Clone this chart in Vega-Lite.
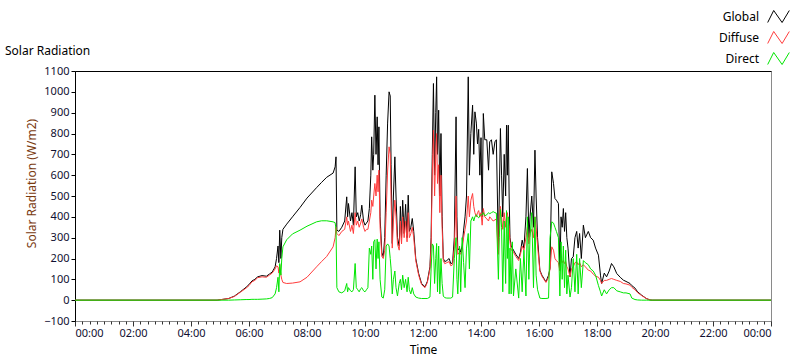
{
  "$schema": "https://vega.github.io/schema/vega-lite/v6.json",
  "width": 696,
  "height": 250,
  "autosize": "none",
  "padding": {"left": 75, "top": 71, "right": 29, "bottom": 40},
  "background": "white",
  "config": {
    "view": {"stroke": "#8a8a8a", "strokeWidth": 1},
    "font": "Noto Sans"
  },
  "title": {"text": "Solar Radiation", "anchor": "start", "frame": "group", "dx": -70, "dy": 68, "offset": 14, "fontSize": 12, "fontWeight": "normal", "font": "Noto Sans", "color": "black"},
  "data": {"values": [
    {"h":0,"Global":0,"Diffuse":0,"Direct":0},
    {"h":4.9,"Global":0,"Diffuse":0,"Direct":0},
    {"h":5.0,"Global":2,"Diffuse":2,"Direct":0},
    {"h":5.3,"Global":8,"Diffuse":8,"Direct":0},
    {"h":5.5,"Global":20,"Diffuse":18,"Direct":1},
    {"h":5.7,"Global":40,"Diffuse":38,"Direct":2},
    {"h":5.9,"Global":62,"Diffuse":58,"Direct":3},
    {"h":6.0,"Global":75,"Diffuse":70,"Direct":3},
    {"h":6.1,"Global":92,"Diffuse":88,"Direct":4},
    {"h":6.2,"Global":100,"Diffuse":95,"Direct":4},
    {"h":6.3,"Global":112,"Diffuse":108,"Direct":4},
    {"h":6.45,"Global":118,"Diffuse":112,"Direct":5},
    {"h":6.6,"Global":115,"Diffuse":110,"Direct":6},
    {"h":6.7,"Global":125,"Diffuse":120,"Direct":8},
    {"h":6.8,"Global":135,"Diffuse":130,"Direct":12},
    {"h":6.9,"Global":160,"Diffuse":150,"Direct":30},
    {"h":6.95,"Global":200,"Diffuse":165,"Direct":60},
    {"h":7.0,"Global":260,"Diffuse":160,"Direct":110},
    {"h":7.03,"Global":180,"Diffuse":130,"Direct":40},
    {"h":7.06,"Global":336,"Diffuse":170,"Direct":176},
    {"h":7.1,"Global":200,"Diffuse":120,"Direct":120},
    {"h":7.13,"Global":300,"Diffuse":100,"Direct":200},
    {"h":7.17,"Global":340,"Diffuse":85,"Direct":256},
    {"h":7.3,"Global":365,"Diffuse":80,"Direct":290},
    {"h":7.5,"Global":400,"Diffuse":82,"Direct":318},
    {"h":7.76,"Global":445,"Diffuse":88,"Direct":336},
    {"h":8.0,"Global":490,"Diffuse":110,"Direct":355},
    {"h":8.33,"Global":540,"Diffuse":160,"Direct":376},
    {"h":8.5,"Global":565,"Diffuse":185,"Direct":381},
    {"h":8.68,"Global":590,"Diffuse":210,"Direct":381},
    {"h":8.9,"Global":610,"Diffuse":256,"Direct":376},
    {"h":8.97,"Global":640,"Diffuse":300,"Direct":372},
    {"h":9.0,"Global":688,"Diffuse":350,"Direct":340},
    {"h":9.03,"Global":336,"Diffuse":320,"Direct":60},
    {"h":9.1,"Global":330,"Diffuse":310,"Direct":40},
    {"h":9.2,"Global":350,"Diffuse":330,"Direct":35},
    {"h":9.3,"Global":380,"Diffuse":340,"Direct":45},
    {"h":9.37,"Global":496,"Diffuse":400,"Direct":80},
    {"h":9.4,"Global":400,"Diffuse":360,"Direct":40},
    {"h":9.43,"Global":464,"Diffuse":380,"Direct":60},
    {"h":9.5,"Global":380,"Diffuse":330,"Direct":45},
    {"h":9.55,"Global":420,"Diffuse":360,"Direct":40},
    {"h":9.6,"Global":360,"Diffuse":320,"Direct":50},
    {"h":9.66,"Global":640,"Diffuse":420,"Direct":176},
    {"h":9.7,"Global":400,"Diffuse":360,"Direct":60},
    {"h":9.75,"Global":420,"Diffuse":380,"Direct":50},
    {"h":9.8,"Global":380,"Diffuse":350,"Direct":40},
    {"h":9.85,"Global":410,"Diffuse":370,"Direct":55},
    {"h":9.89,"Global":456,"Diffuse":390,"Direct":60},
    {"h":9.95,"Global":380,"Diffuse":350,"Direct":45},
    {"h":10.0,"Global":360,"Diffuse":330,"Direct":40},
    {"h":10.05,"Global":370,"Diffuse":340,"Direct":50},
    {"h":10.1,"Global":380,"Diffuse":340,"Direct":60},
    {"h":10.15,"Global":440,"Diffuse":380,"Direct":250},
    {"h":10.2,"Global":600,"Diffuse":420,"Direct":220},
    {"h":10.23,"Global":784,"Diffuse":480,"Direct":260},
    {"h":10.27,"Global":624,"Diffuse":450,"Direct":100},
    {"h":10.3,"Global":700,"Diffuse":500,"Direct":280},
    {"h":10.34,"Global":984,"Diffuse":560,"Direct":290},
    {"h":10.38,"Global":700,"Diffuse":500,"Direct":150},
    {"h":10.42,"Global":880,"Diffuse":600,"Direct":293},
    {"h":10.45,"Global":650,"Diffuse":520,"Direct":200},
    {"h":10.48,"Global":832,"Diffuse":624,"Direct":280},
    {"h":10.52,"Global":400,"Diffuse":350,"Direct":100},
    {"h":10.58,"Global":230,"Diffuse":210,"Direct":15},
    {"h":10.63,"Global":208,"Diffuse":200,"Direct":10},
    {"h":10.68,"Global":300,"Diffuse":240,"Direct":50},
    {"h":10.73,"Global":600,"Diffuse":420,"Direct":260},
    {"h":10.78,"Global":850,"Diffuse":620,"Direct":270},
    {"h":10.83,"Global":1000,"Diffuse":736,"Direct":260},
    {"h":10.87,"Global":980,"Diffuse":700,"Direct":200},
    {"h":10.9,"Global":650,"Diffuse":480,"Direct":150},
    {"h":10.94,"Global":272,"Diffuse":250,"Direct":30},
    {"h":10.98,"Global":500,"Diffuse":380,"Direct":100},
    {"h":11.03,"Global":688,"Diffuse":480,"Direct":140},
    {"h":11.07,"Global":500,"Diffuse":400,"Direct":60},
    {"h":11.12,"Global":300,"Diffuse":270,"Direct":20},
    {"h":11.18,"Global":260,"Diffuse":240,"Direct":80},
    {"h":11.22,"Global":450,"Diffuse":380,"Direct":100},
    {"h":11.26,"Global":300,"Diffuse":270,"Direct":50},
    {"h":11.3,"Global":480,"Diffuse":400,"Direct":120},
    {"h":11.35,"Global":320,"Diffuse":300,"Direct":60},
    {"h":11.4,"Global":460,"Diffuse":380,"Direct":100},
    {"h":11.45,"Global":300,"Diffuse":280,"Direct":40},
    {"h":11.49,"Global":504,"Diffuse":420,"Direct":110},
    {"h":11.53,"Global":330,"Diffuse":300,"Direct":50},
    {"h":11.58,"Global":350,"Diffuse":320,"Direct":30},
    {"h":11.63,"Global":392,"Diffuse":350,"Direct":60},
    {"h":11.68,"Global":330,"Diffuse":300,"Direct":30},
    {"h":11.75,"Global":200,"Diffuse":190,"Direct":15},
    {"h":11.85,"Global":128,"Diffuse":120,"Direct":10},
    {"h":11.95,"Global":80,"Diffuse":75,"Direct":8},
    {"h":12.07,"Global":64,"Diffuse":60,"Direct":8},
    {"h":12.15,"Global":90,"Diffuse":85,"Direct":8},
    {"h":12.24,"Global":160,"Diffuse":150,"Direct":15},
    {"h":12.28,"Global":300,"Diffuse":260,"Direct":150},
    {"h":12.32,"Global":700,"Diffuse":600,"Direct":270},
    {"h":12.36,"Global":1040,"Diffuse":816,"Direct":260},
    {"h":12.4,"Global":600,"Diffuse":500,"Direct":80},
    {"h":12.44,"Global":900,"Diffuse":700,"Direct":200},
    {"h":12.47,"Global":1072,"Diffuse":800,"Direct":272},
    {"h":12.5,"Global":700,"Diffuse":560,"Direct":40},
    {"h":12.54,"Global":912,"Diffuse":650,"Direct":260},
    {"h":12.58,"Global":500,"Diffuse":420,"Direct":30},
    {"h":12.62,"Global":800,"Diffuse":600,"Direct":200},
    {"h":12.66,"Global":400,"Diffuse":350,"Direct":80},
    {"h":12.7,"Global":200,"Diffuse":190,"Direct":20},
    {"h":12.75,"Global":185,"Diffuse":175,"Direct":12},
    {"h":12.82,"Global":190,"Diffuse":180,"Direct":10},
    {"h":12.9,"Global":200,"Diffuse":185,"Direct":10},
    {"h":12.96,"Global":175,"Diffuse":165,"Direct":10},
    {"h":13.02,"Global":180,"Diffuse":170,"Direct":15},
    {"h":13.08,"Global":300,"Diffuse":250,"Direct":200},
    {"h":13.14,"Global":880,"Diffuse":500,"Direct":300},
    {"h":13.17,"Global":400,"Diffuse":300,"Direct":100},
    {"h":13.2,"Global":240,"Diffuse":220,"Direct":30},
    {"h":13.26,"Global":250,"Diffuse":230,"Direct":260},
    {"h":13.3,"Global":230,"Diffuse":220,"Direct":40},
    {"h":13.35,"Global":260,"Diffuse":240,"Direct":300},
    {"h":13.4,"Global":336,"Diffuse":300,"Direct":180},
    {"h":13.45,"Global":400,"Diffuse":340,"Direct":60},
    {"h":13.5,"Global":500,"Diffuse":380,"Direct":250},
    {"h":13.56,"Global":1072,"Diffuse":500,"Direct":320},
    {"h":13.6,"Global":600,"Diffuse":400,"Direct":150},
    {"h":13.65,"Global":800,"Diffuse":480,"Direct":380},
    {"h":13.71,"Global":936,"Diffuse":512,"Direct":400},
    {"h":13.75,"Global":700,"Diffuse":450,"Direct":380},
    {"h":13.79,"Global":904,"Diffuse":420,"Direct":400},
    {"h":13.84,"Global":850,"Diffuse":400,"Direct":410},
    {"h":13.88,"Global":750,"Diffuse":420,"Direct":400},
    {"h":13.92,"Global":820,"Diffuse":430,"Direct":395},
    {"h":13.96,"Global":600,"Diffuse":400,"Direct":405},
    {"h":14.0,"Global":780,"Diffuse":420,"Direct":410},
    {"h":14.04,"Global":400,"Diffuse":360,"Direct":410},
    {"h":14.08,"Global":896,"Diffuse":440,"Direct":420},
    {"h":14.13,"Global":770,"Diffuse":400,"Direct":405},
    {"h":14.2,"Global":770,"Diffuse":390,"Direct":410},
    {"h":14.26,"Global":624,"Diffuse":380,"Direct":420},
    {"h":14.3,"Global":760,"Diffuse":400,"Direct":415},
    {"h":14.36,"Global":770,"Diffuse":390,"Direct":420},
    {"h":14.42,"Global":700,"Diffuse":380,"Direct":425},
    {"h":14.48,"Global":760,"Diffuse":385,"Direct":420},
    {"h":14.53,"Global":770,"Diffuse":390,"Direct":418},
    {"h":14.6,"Global":240,"Diffuse":220,"Direct":100},
    {"h":14.63,"Global":500,"Diffuse":400,"Direct":300},
    {"h":14.67,"Global":824,"Diffuse":450,"Direct":435},
    {"h":14.71,"Global":600,"Diffuse":400,"Direct":350},
    {"h":14.75,"Global":400,"Diffuse":340,"Direct":40},
    {"h":14.8,"Global":700,"Diffuse":420,"Direct":380},
    {"h":14.85,"Global":500,"Diffuse":350,"Direct":80},
    {"h":14.88,"Global":840,"Diffuse":400,"Direct":430},
    {"h":14.91,"Global":600,"Diffuse":420,"Direct":200},
    {"h":14.94,"Global":840,"Diffuse":380,"Direct":400},
    {"h":14.97,"Global":500,"Diffuse":350,"Direct":30},
    {"h":15.0,"Global":300,"Diffuse":280,"Direct":250},
    {"h":15.04,"Global":260,"Diffuse":240,"Direct":30},
    {"h":15.08,"Global":250,"Diffuse":240,"Direct":280},
    {"h":15.12,"Global":240,"Diffuse":230,"Direct":20},
    {"h":15.2,"Global":220,"Diffuse":210,"Direct":150},
    {"h":15.3,"Global":200,"Diffuse":190,"Direct":10},
    {"h":15.36,"Global":230,"Diffuse":220,"Direct":200},
    {"h":15.42,"Global":288,"Diffuse":260,"Direct":40},
    {"h":15.48,"Global":250,"Diffuse":240,"Direct":240},
    {"h":15.55,"Global":400,"Diffuse":300,"Direct":20},
    {"h":15.6,"Global":632,"Diffuse":350,"Direct":400},
    {"h":15.65,"Global":300,"Diffuse":270,"Direct":100},
    {"h":15.69,"Global":400,"Diffuse":320,"Direct":300},
    {"h":15.75,"Global":500,"Diffuse":340,"Direct":420},
    {"h":15.81,"Global":350,"Diffuse":300,"Direct":60},
    {"h":15.86,"Global":720,"Diffuse":400,"Direct":400},
    {"h":15.9,"Global":500,"Diffuse":350,"Direct":120},
    {"h":15.95,"Global":300,"Diffuse":260,"Direct":50},
    {"h":16.03,"Global":144,"Diffuse":140,"Direct":10},
    {"h":16.1,"Global":120,"Diffuse":115,"Direct":8},
    {"h":16.24,"Global":88,"Diffuse":85,"Direct":8},
    {"h":16.33,"Global":120,"Diffuse":110,"Direct":10},
    {"h":16.38,"Global":154,"Diffuse":150,"Direct":300},
    {"h":16.44,"Global":616,"Diffuse":256,"Direct":376},
    {"h":16.5,"Global":560,"Diffuse":240,"Direct":370},
    {"h":16.55,"Global":488,"Diffuse":200,"Direct":350},
    {"h":16.6,"Global":480,"Diffuse":190,"Direct":330},
    {"h":16.67,"Global":464,"Diffuse":180,"Direct":300},
    {"h":16.72,"Global":144,"Diffuse":140,"Direct":20},
    {"h":16.76,"Global":400,"Diffuse":200,"Direct":280},
    {"h":16.8,"Global":350,"Diffuse":180,"Direct":100},
    {"h":16.84,"Global":440,"Diffuse":190,"Direct":260},
    {"h":16.88,"Global":330,"Diffuse":176,"Direct":60},
    {"h":16.92,"Global":420,"Diffuse":185,"Direct":240},
    {"h":16.96,"Global":300,"Diffuse":160,"Direct":30},
    {"h":17.0,"Global":250,"Diffuse":150,"Direct":120},
    {"h":17.07,"Global":112,"Diffuse":112,"Direct":15},
    {"h":17.12,"Global":200,"Diffuse":150,"Direct":60},
    {"h":17.18,"Global":208,"Diffuse":160,"Direct":200},
    {"h":17.24,"Global":300,"Diffuse":180,"Direct":40},
    {"h":17.3,"Global":330,"Diffuse":184,"Direct":220},
    {"h":17.35,"Global":250,"Diffuse":170,"Direct":30},
    {"h":17.4,"Global":320,"Diffuse":180,"Direct":200},
    {"h":17.46,"Global":200,"Diffuse":160,"Direct":60},
    {"h":17.53,"Global":360,"Diffuse":170,"Direct":190},
    {"h":17.6,"Global":300,"Diffuse":160,"Direct":180},
    {"h":17.7,"Global":330,"Diffuse":144,"Direct":170},
    {"h":17.78,"Global":300,"Diffuse":140,"Direct":150},
    {"h":17.87,"Global":288,"Diffuse":125,"Direct":140},
    {"h":17.95,"Global":250,"Diffuse":115,"Direct":120},
    {"h":18.05,"Global":216,"Diffuse":110,"Direct":70},
    {"h":18.12,"Global":120,"Diffuse":95,"Direct":40},
    {"h":18.16,"Global":80,"Diffuse":80,"Direct":20},
    {"h":18.25,"Global":130,"Diffuse":95,"Direct":50},
    {"h":18.33,"Global":112,"Diffuse":95,"Direct":30},
    {"h":18.42,"Global":140,"Diffuse":100,"Direct":50},
    {"h":18.5,"Global":176,"Diffuse":104,"Direct":60},
    {"h":18.58,"Global":160,"Diffuse":100,"Direct":60},
    {"h":18.68,"Global":128,"Diffuse":95,"Direct":45},
    {"h":18.8,"Global":110,"Diffuse":90,"Direct":40},
    {"h":18.91,"Global":96,"Diffuse":80,"Direct":35},
    {"h":19.0,"Global":90,"Diffuse":78,"Direct":35},
    {"h":19.14,"Global":80,"Diffuse":72,"Direct":30},
    {"h":19.2,"Global":70,"Diffuse":62,"Direct":10},
    {"h":19.31,"Global":58,"Diffuse":50,"Direct":3},
    {"h":19.4,"Global":40,"Diffuse":36,"Direct":1},
    {"h":19.54,"Global":24,"Diffuse":22,"Direct":0},
    {"h":19.7,"Global":8,"Diffuse":8,"Direct":0},
    {"h":19.83,"Global":1,"Diffuse":1,"Direct":0},
    {"h":19.9,"Global":0,"Diffuse":0,"Direct":0},
    {"h":24,"Global":0,"Diffuse":0,"Direct":0}
  ]},
  "transform": [{"fold": ["Global", "Diffuse", "Direct"], "as": ["series", "value"]}],
  "resolve": {"axis": {"x": "independent"}},
  "layer": [
    {
      "mark": {"type": "line", "strokeWidth": 1, "interpolate": "linear"},
      "encoding": {
        "x": {"field": "h", "type": "quantitative",
          "scale": {"domain": [0, 24], "nice": false, "zero": false},
          "axis": {"orient": "bottom", "title": "Time", "values": [0,2,4,6,8,10,12,14,16,18,20,22,24],
            "labelExpr": "(datum.value % 24 < 10 ? '0' : '') + (datum.value % 24) + ':00'",
            "grid": false, "domainColor": "#8a8a8a", "tickColor": "#333333", "tickSize": 5,
            "labelFont": "Noto Sans", "labelFontSize": 11, "labelColor": "#101030", "labelPadding": 1,
            "titleFont": "Noto Sans", "titleFontSize": 12, "titleFontWeight": "normal", "titleColor": "black", "titlePadding": 6}},
        "y": {"field": "value", "type": "quantitative",
          "scale": {"domain": [-100, 1100], "nice": false, "zero": false},
          "axis": {"title": "Solar Radiation (W/m2)", "values": [-100,0,100,200,300,400,500,600,700,800,900,1000,1100],
            "format": "d", "labelOverlap": false, "labelSeparation": 0, "titleY": 112,
            "grid": false, "domainColor": "black", "tickColor": "black", "tickSize": 4,
            "labelFont": "Noto Sans", "labelFontSize": 11, "labelColor": "#101030", "labelPadding": 2,
            "titleFont": "Noto Sans", "titleFontSize": 12, "titleFontWeight": "normal", "titleColor": "#7a3a10", "titlePadding": 5}},
        "color": {"field": "series", "type": "nominal",
          "scale": {"domain": ["Global", "Diffuse", "Direct"], "range": ["#000000", "#ff3c3c", "#00e600"]},
          "legend": {"title": null, "orient": "none", "legendX": 691, "legendY": -67,
            "symbolType": "M-0.9,0.5L-0.4,-0.5L0.3,0.5L0.9,-0.5", "symbolSize": 576, "symbolStrokeWidth": 1,
            "symbolFillColor": "transparent", "labelAlign": "right", "labelOffset": -32,
            "labelFont": "Noto Sans", "labelFontSize": 12, "labelColor": "black", "rowPadding": 0}}
      }
    },
    {
      "mark": {"type": "rule", "opacity": 0},
      "encoding": {
        "x": {"field": "h", "type": "quantitative",
          "scale": {"domain": [0, 24], "nice": false, "zero": false},
          "axis": {"orient": "top", "title": null, "labels": false, "ticks": false, "grid": false, "domain": true, "domainColor": "black", "domainWidth": 1}}
      }
    },
    {
      "mark": {"type": "rule", "opacity": 0},
      "encoding": {
        "x": {"field": "h", "type": "quantitative",
          "scale": {"domain": [0, 24], "nice": false, "zero": false},
          "axis": {"orient": "bottom", "title": null, "labels": false, "domain": false, "grid": false, "tickSize": 3, "tickColor": "#333333",
            "values": [0,0.25,0.5,0.75,1,1.25,1.5,1.75,2,2.25,2.5,2.75,3,3.25,3.5,3.75,4,4.25,4.5,4.75,5,5.25,5.5,5.75,6,6.25,6.5,6.75,7,7.25,7.5,7.75,8,8.25,8.5,8.75,9,9.25,9.5,9.75,10,10.25,10.5,10.75,11,11.25,11.5,11.75,12,12.25,12.5,12.75,13,13.25,13.5,13.75,14,14.25,14.5,14.75,15,15.25,15.5,15.75,16,16.25,16.5,16.75,17,17.25,17.5,17.75,18,18.25,18.5,18.75,19,19.25,19.5,19.75,20,20.25,20.5,20.75,21,21.25,21.5,21.75,22,22.25,22.5,22.75,23,23.25,23.5,23.75,24]}}
      }
    }
  ]
}
